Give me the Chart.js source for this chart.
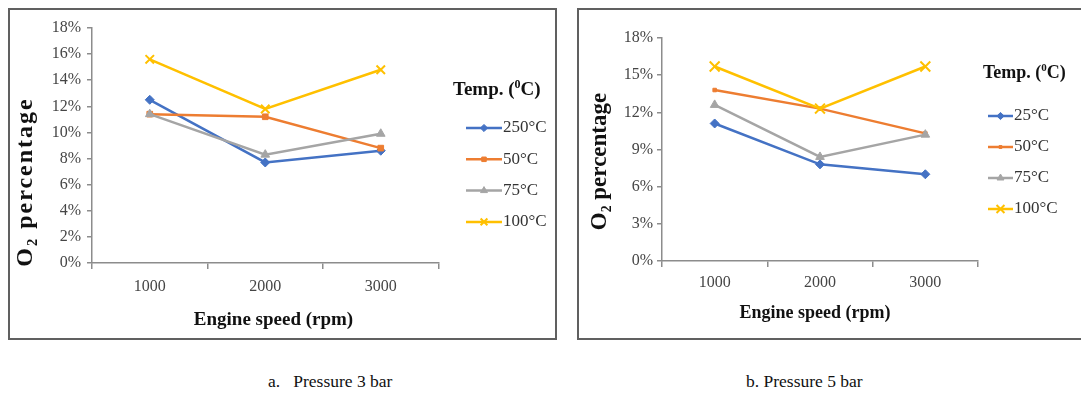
<!DOCTYPE html>
<html><head><meta charset="utf-8">
<script src="https://cdn.jsdelivr.net/npm/chart.js@4.4.1/dist/chart.umd.min.js"></script>
<style>
html,body{margin:0;padding:0;background:#fff;width:1081px;height:396px;overflow:hidden;position:relative;font-family:"Liberation Serif","Times New Roman",serif;}
.frame{position:absolute;border:2px solid #606060;box-sizing:border-box;}
canvas{position:absolute;}
.cap{position:absolute;font-size:17.5px;color:#111;white-space:pre;line-height:20px;}
</style></head><body>
<div class="frame" style="left:8px;top:8px;width:549px;height:332px"></div>
<div class="frame" style="left:577px;top:8px;width:520px;height:332px"></div>
<canvas id="c1" width="546" height="328" style="left:9px;top:9px"></canvas>
<canvas id="c2" width="502" height="328" style="left:579px;top:9px"></canvas>
<div class="cap" style="left:268px;top:371px">a.   Pressure 3 bar</div>
<div class="cap" style="left:746px;top:371px">b. Pressure 5 bar</div>
<script>
// ---- data ----
const categories = ['1000', '2000', '3000'];
const labels3bar = ['250°C', '50°C', '75°C', '100°C'];
const labels5bar = ['25°C', '50°C', '75°C', '100°C'];
// O2 percentage, pressure 3 bar
const p3_t25 = [12.5, 7.7, 8.6];
const p3_t50 = [11.4, 11.2, 8.8];
const p3_t75 = [11.4, 8.3, 9.9];
const p3_t100 = [15.6, 11.8, 14.8];
// O2 percentage, pressure 5 bar
const p5_t25 = [11.1, 7.8, 7.0];
const p5_t50 = [13.8, 12.3, 10.3];
const p5_t75 = [12.6, 8.4, 10.2];
const p5_t100 = [15.7, 12.3, 15.7];
// y tick values
const yTicks3bar = [0, 2, 4, 6, 8, 10, 12, 14, 16, 18];
const yTicks5bar = [0, 3, 6, 9, 12, 15, 18];
const xTitle = 'Engine speed (rpm)';
const yTitle = 'O₂ percentage';

// ---- styles ----
const colors = ['#4472C4', '#ED7D31', '#A5A5A5', '#FFC000'];
const FAM = '"Liberation Serif", "Times New Roman", serif';
const axisColor = '#8c8c8c';
const tickColor = '#454545';

function makeDatasets(labels, series, styles) {
  return series.map((d, i) => ({
    label: labels[i],
    data: d,
    borderColor: colors[i],
    backgroundColor: colors[i],
    pointBackgroundColor: colors[i],
    pointBorderColor: colors[i],
    borderWidth: 2.5,
    tension: 0,
    pointStyle: styles[i].ps,
    pointRadius: styles[i].r,
    pointBorderWidth: styles[i].bw,
    order: 4 - i
  }));
}

const legendPlugin = {
  id: 'excelLegend',
  afterDraw(chart, args, o) {
    const ctx = chart.ctx;
    ctx.save();
    ctx.textBaseline = 'middle';
    ctx.textAlign = 'left';
    ctx.fillStyle = '#111';
    let x = o.titleX;
    const fs = o.titleSize;
    ctx.font = `bold ${fs}px ${FAM}`;
    ctx.fillText('Temp. (', x, o.titleY);
    x += ctx.measureText('Temp. (').width;
    ctx.font = `bold ${Math.round(fs * 0.62)}px ${FAM}`;
    ctx.fillText('0', x, o.titleY - fs * 0.28);
    x += ctx.measureText('0').width;
    ctx.font = `bold ${fs}px ${FAM}`;
    ctx.fillText('C)', x, o.titleY);
    chart.data.datasets.forEach((ds, i) => {
      const y = o.itemY + i * o.step;
      ctx.strokeStyle = ds.borderColor;
      ctx.lineWidth = 2.5;
      ctx.beginPath();
      ctx.moveTo(o.lineX, y);
      ctx.lineTo(o.lineX + o.lineLen, y);
      ctx.stroke();
      ctx.fillStyle = ds.pointBackgroundColor;
      ctx.strokeStyle = ds.pointBorderColor;
      ctx.lineWidth = ds.pointBorderWidth;
      Chart.helpers.drawPoint(ctx, {pointStyle: ds.pointStyle, radius: ds.pointRadius * 0.8, borderWidth: ds.pointBorderWidth, rotation: 0}, o.lineX + o.lineLen / 2, y);
      ctx.fillStyle = '#333';
      ctx.font = `${o.itemSize}px ${FAM}`;
      ctx.fillText(ds.label, o.lineX + o.lineLen + 1, y);
    });
    ctx.restore();
  }
};

// axis titles placed like the Excel originals
const axisTitlePlugin = {
  id: 'axisTitles',
  afterDraw(chart, args, o) {
    const ctx = chart.ctx;
    ctx.save();
    ctx.fillStyle = '#111';
    ctx.textAlign = 'center';
    ctx.textBaseline = 'middle';
    ctx.font = `bold ${o.x.size}px ${FAM}`;
    ctx.fillText(xTitle, o.x.cx, o.x.cy);
    ctx.translate(o.y.cx, o.y.cy);
    ctx.rotate(-Math.PI / 2);
    ctx.font = `bold ${o.y.size}px ${FAM}`;
    if ('letterSpacing' in ctx) ctx.letterSpacing = o.y.spacing + 'px';
    ctx.fillText(yTitle, 0, 0);
    ctx.restore();
  }
};

function build(id, datasets, yTicks, L) {
  return new Chart(document.getElementById(id), {
    type: 'line',
    data: {labels: categories, datasets},
    options: {
      responsive: false, animation: false, devicePixelRatio: 1,
      layout: {padding: {left: 0, top: L.top, right: L.right, bottom: 0}},
      plugins: {legend: {display: false}, tooltip: {enabled: false}, excelLegend: L.legend, axisTitles: L.titles},
      scales: {
        x: {
          offset: true,
          grid: {offset: true, drawOnChartArea: false, tickLength: 6, color: axisColor, lineWidth: 1.5},
          border: {color: axisColor, width: 1.5},
          ticks: {font: {family: FAM, size: 16}, color: tickColor, padding: L.xTickPad},
          afterFit(s) { s.height = L.xHeight; }
        },
        y: {
          min: 0, max: 18,
          afterBuildTicks(s) { s.ticks = yTicks.map(v => ({value: v})); },
          ticks: {callback: v => v + '%', font: {family: FAM, size: 16}, color: tickColor, padding: L.yTickPad},
          grid: {drawOnChartArea: false, tickLength: 5, color: axisColor, lineWidth: 1.5},
          border: {color: axisColor, width: 1.5},
          afterFit(s) { s.width = L.yWidth; }
        }
      }
    },
    plugins: [legendPlugin, axisTitlePlugin]
  });
}

const styles3 = [
  {ps: 'rectRot', r: 4.5, bw: 1},
  {ps: 'rect', r: 4, bw: 1},
  {ps: 'triangle', r: 5, bw: 1},
  {ps: 'crossRot', r: 6, bw: 2}
];
const styles5 = [
  {ps: 'rectRot', r: 4.5, bw: 1},
  {ps: 'rect', r: 2.5, bw: 1},
  {ps: 'triangle', r: 5, bw: 1},
  {ps: 'crossRot', r: 7, bw: 2}
];

build('c1', makeDatasets(labels3bar, [p3_t25, p3_t50, p3_t75, p3_t100], styles3), yTicks3bar, {
  top: 19, right: 116.5, xHeight: 74, yWidth: 83,
  xTickPad: 8, yTickPad: 6,
  titles: {x: {cx: 264.5, cy: 311, size: 19}, y: {cx: 16.5, cy: 173, size: 24, spacing: 2}},
  legend: {titleX: 444, titleY: 81, titleSize: 19, lineX: 457, lineLen: 36, itemY: 119, step: 31.3, itemSize: 17}
});
build('c2', makeDatasets(labels5bar, [p5_t25, p5_t50, p5_t75, p5_t100], styles5), yTicks5bar, {
  top: 29, right: 103, xHeight: 76, yWidth: 83,
  xTickPad: 6, yTickPad: 4,
  titles: {x: {cx: 236, cy: 304, size: 18}, y: {cx: 21, cy: 152.5, size: 23, spacing: 0}},
  legend: {titleX: 404, titleY: 64, titleSize: 18, lineX: 409, lineLen: 25, itemY: 107, step: 31, itemSize: 17}
});
</script>
</body></html>
